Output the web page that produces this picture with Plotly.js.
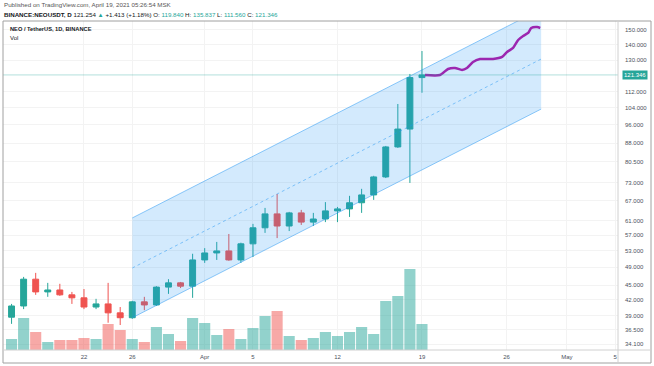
<!DOCTYPE html>
<html><head><meta charset="utf-8">
<script src="https://cdn.plot.ly/plotly-3.0.1.min.js"></script>
<style>html,body{margin:0;padding:0;background:#fff;}#chart{width:654px;height:366px;}</style>
</head><body><div id="chart"></div>
<script>
// ---- data ----
const dates = ['2021-03-16','2021-03-17','2021-03-18','2021-03-19','2021-03-20','2021-03-21','2021-03-22','2021-03-23','2021-03-24','2021-03-25','2021-03-26','2021-03-27','2021-03-28','2021-03-29','2021-03-30','2021-03-31','2021-04-01','2021-04-02','2021-04-03','2021-04-04','2021-04-05','2021-04-06','2021-04-07','2021-04-08','2021-04-09','2021-04-10','2021-04-11','2021-04-12','2021-04-13','2021-04-14','2021-04-15','2021-04-16','2021-04-17','2021-04-18','2021-04-19'];
const openP  = [38.7,40.8,46.3,43.6,44.0,43.0,42.4,40.6,41.2,39.5,38.6,41.6,41.0,44.6,45.5,44.8,50.7,52.4,52.9,50.7,54.7,59.0,63.0,59.5,63.3,60.6,61.5,63.9,64.5,66.4,68.9,75.0,86.4,94.0,119.84];
const highP  = [41.2,46.8,47.7,45.5,45.3,43.6,44.2,42.2,45.5,40.6,41.8,42.6,44.8,46.3,45.7,52.2,53.6,55.2,57.3,55.0,60.1,64.8,69.2,63.6,64.2,63.3,66.6,65.1,68.6,70.9,75.4,86.8,105.8,121.9,135.837];
const lowP   = [37.5,40.2,43.0,42.6,42.8,41.2,40.2,40.2,37.7,37.3,38.4,40.0,40.8,43.2,44.4,42.4,50.0,50.7,50.5,50.0,51.4,57.6,56.2,58.1,59.8,59.5,60.6,60.6,62.1,63.3,67.3,74.6,86.0,72.9,111.56];
const closeP = [40.8,46.3,43.6,44.0,43.0,42.4,40.6,41.2,39.5,38.6,41.6,41.0,44.6,45.5,44.8,50.7,52.4,52.9,50.7,54.7,59.0,63.0,59.5,63.3,60.6,61.5,63.9,64.5,66.4,68.9,75.0,86.4,94.0,119.84,121.346];
const volM   = [1.1,3.2,1.8,0.8,1.0,1.0,1.2,1.1,2.6,2.0,1.1,0.8,2.3,1.6,0.9,3.2,2.7,1.5,2.1,1.1,2.2,3.4,3.9,1.4,1.0,1.2,1.8,1.4,1.8,2.3,1.6,4.9,5.4,8.1,2.6];

const chanDates = ['2021-03-26','2021-04-28 21:00'];
const chanUpper = [61.8,165.6];
const chanLower = [38.6,103.3];
const chanMid   = [48.8,130.8];

const fcDates = ['2021-04-19 06:00','2021-04-20 11:45','2021-04-21 03:50','2021-04-21 17:45','2021-04-22 07:40','2021-04-22 17:30','2021-04-23 05:30','2021-04-23 19:25','2021-04-24 21:20','2021-04-25 15:20','2021-04-26 01:10','2021-04-26 13:10','2021-04-26 23:15','2021-04-27 09:10','2021-04-27 19:10','2021-04-28 01:10','2021-04-28 13:00','2021-04-28 19:10'];
const fcPrice = [121.3,121.3,124.8,125.4,124.2,125.4,129.0,130.8,130.8,132.1,135.2,137.8,143.1,145.8,147.9,151.4,152.1,151.4];

const xTickVals = ['2021-03-22','2021-03-26','2021-04-01','2021-04-05','2021-04-12','2021-04-19','2021-04-26','2021-05-01','2021-05-05'];
const xTickText = ['22','26','Apr','5','12','19','26','May','5'];
const yTickVals = [34.1,36.5,39,42,45,49,53,57,61,67,73,80.5,88,96,104,112,130,140,150];
const yTickText = ['34.100','36.500','39.000','42.000','45.000','49.000','53.000','57.000','61.000','67.000','73.000','80.500','88.000','96.000','104.000','112.000','130.000','140.000','150.000'];
const lastPrice = 121.346;

// ---- chart ----
const UP = '#26a69a', DN = '#ef5350';
const volColors = closeP.map((c,i) => c >= openP[i] ? 'rgba(38,166,154,0.5)' : 'rgba(239,83,80,0.5)');
const FONT = 'Liberation Sans, Arial, sans-serif';

const traces = [
  {type:'bar', x:dates, y:volM, yaxis:'y2', marker:{color:volColors, line:{width:0}},
   width:0.92*86400000, hoverinfo:'skip'},
  {type:'scatter', mode:'lines', x:[chanDates[0],chanDates[1],chanDates[1],chanDates[0]],
   y:[chanUpper[0],chanUpper[1],chanLower[1],chanLower[0]], fill:'toself',
   fillcolor:'rgba(33,150,243,0.2)', line:{width:0}, hoverinfo:'skip'},
  {type:'scatter', mode:'lines', x:chanDates, y:chanUpper, line:{color:'rgba(33,150,243,0.5)', width:1}, hoverinfo:'skip'},
  {type:'scatter', mode:'lines', x:chanDates, y:chanLower, line:{color:'rgba(33,150,243,0.5)', width:1}, hoverinfo:'skip'},
  {type:'scatter', mode:'lines', x:chanDates, y:chanMid, line:{color:'rgba(33,150,243,0.5)', width:1, dash:'3px,3px'}, hoverinfo:'skip'},
  {type:'candlestick', x:dates, open:openP, high:highP, low:lowP, close:closeP,
   increasing:{line:{color:UP, width:1}, fillcolor:UP},
   decreasing:{line:{color:DN, width:1}, fillcolor:DN},
   whiskerwidth:0, hoverinfo:'skip'},
  {type:'scatter', mode:'lines', x:fcDates, y:fcPrice, line:{color:'#9c27b0', width:2.5, shape:'spline', smoothing:0.6}, hoverinfo:'skip'}
];

const W = 615, H = 329;
const px = v => (v - 3) / W;          // page px -> paper x
const py = v => (350 - v) / H;        // page px -> paper y

const layout = {
  width:654, height:366,
  margin:{l:3, r:36, t:21, b:16, pad:0},
  paper_bgcolor:'#ffffff', plot_bgcolor:'#ffffff',
  showlegend:false,
  font:{family:FONT, size:6, color:'#4c525e'},
  xaxis:{type:'date', range:['2021-03-15 07:00','2021-05-05 05:45'],
    tickvals:xTickVals, ticktext:xTickText, showgrid:true, gridcolor:'#f3f3f3', gridwidth:1,
    zeroline:false, showline:false, ticks:'', ticklabelstandoff:2, tickfont:{size:6, color:'#4c525e'},
    rangeslider:{visible:false}, fixedrange:true},
  yaxis:{type:'log', side:'right', range:[Math.log10(33.15), Math.log10(156.5)],
    tickvals:yTickVals, ticktext:yTickText, showgrid:true, gridcolor:'#f3f3f3', gridwidth:1,
    zeroline:false, showline:false, ticks:'', ticklabelstandoff:6,
    tickfont:{size:6, color:'#4c525e'}, fixedrange:true},
  yaxis2:{overlaying:'y', range:[0,32.9], visible:false, fixedrange:true},
  shapes:[
    {type:'line', xref:'paper', yref:'y', x0:0, x1:1, y0:lastPrice, y1:lastPrice,
     line:{color:'rgba(38,166,154,0.35)', width:1}},
    {type:'rect', xref:'paper', yref:'paper', x0:0, x1:px(651), y0:py(363), y1:1,
     line:{color:'#a0a0a0', width:1}},
    {type:'line', xref:'paper', yref:'paper', x0:1, x1:1, y0:py(363), y1:1, line:{color:'#d0d0d0', width:1}},
    {type:'line', xref:'paper', yref:'paper', x0:0, x1:px(651), y0:0, y1:0, line:{color:'#d0d0d0', width:1}}
  ],
  annotations:[
    {xref:'paper', yref:'paper', x:px(2), y:py(5), xanchor:'left', yanchor:'middle', showarrow:false,
     text:'Published on TradingView.com, April 19, 2021 05:26:54 MSK', font:{size:6.2, color:'#555'}},
    {xref:'paper', yref:'paper', x:px(2), y:py(15), xanchor:'left', yanchor:'middle', showarrow:false,
     text:'<b>BINANCE:NEOUSDT, D</b> 121.254 <span style="color:#26a69a">▲</span> +1.413 (+1.18%) O: <span style="color:#26a69a">119.840</span> H: <span style="color:#26a69a">135.837</span> L: <span style="color:#26a69a">111.560</span> C: <span style="color:#26a69a">121.346</span>',
     font:{size:6.2, color:'#131722'}},
    {xref:'paper', yref:'paper', x:px(8), y:py(29), xanchor:'left', yanchor:'middle', showarrow:false,
     text:'<b>NEO / TetherUS, 1D, BINANCE</b>', font:{size:5.7, color:'#131722'}},
    {xref:'paper', yref:'paper', x:px(8), y:py(37.5), xanchor:'left', yanchor:'middle', showarrow:false,
     text:'Vol', font:{size:6, color:'#131722'}},
    {xref:'paper', yref:'y', x:1, y:Math.log10(lastPrice), xanchor:'left', yanchor:'middle', xshift:4,
     showarrow:false, text:'121.346', bgcolor:UP, borderpad:1, font:{size:6, color:'#ffffff'}}
  ]
};

Plotly.newPlot('chart', traces, layout, {displayModeBar:false, staticPlot:true});
</script>
</body></html>
